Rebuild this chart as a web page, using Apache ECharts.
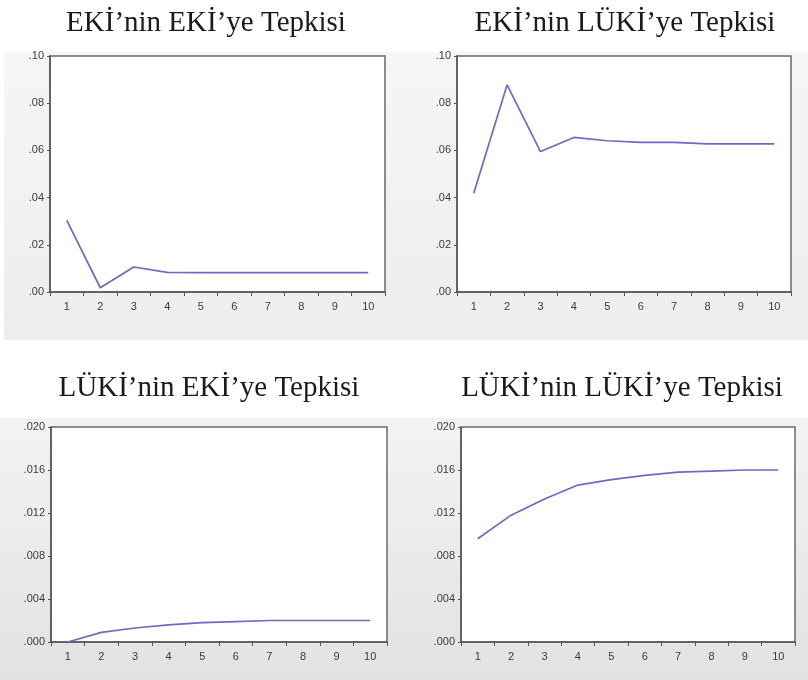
<!DOCTYPE html>
<html>
<head>
<meta charset="utf-8">
<script src="https://cdn.jsdelivr.net/npm/echarts@6/dist/echarts.min.js"></script>
<style>html,body{margin:0;padding:0;background:#fff}#c{width:808px;height:680px}</style>
</head>
<body>
<div id="c"></div>
<script>
const periods = ['1','2','3','4','5','6','7','8','9','10'];
const titles = ['EKİ’nin EKİ’ye Tepkisi','EKİ’nin LÜKİ’ye Tepkisi','LÜKİ’nin EKİ’ye Tepkisi','LÜKİ’nin LÜKİ’ye Tepkisi'];
const ekiEki   = [0.0303, 0.0018, 0.0106, 0.0083, 0.0082, 0.0082, 0.0082, 0.0082, 0.0082, 0.0082];
const ekiLuki  = [0.0418, 0.0878, 0.0595, 0.0655, 0.0641, 0.0634, 0.0634, 0.0628, 0.0628, 0.0628];
const lukiEki  = [0.0000, 0.0009, 0.0013, 0.0016, 0.0018, 0.0019, 0.0020, 0.0020, 0.0020, 0.0020];
const lukiLuki = [0.0096, 0.0118, 0.0133, 0.0146, 0.0151, 0.0155, 0.0158, 0.0159, 0.0160, 0.0160];
const yTopMax = 0.10, yTopStep = 0.02, yTopDigits = 2;
const yBotMax = 0.020, yBotStep = 0.004, yBotDigits = 3;

const seriesData = [ekiEki, ekiLuki, lukiEki, lukiLuki];
const grids = [
  {left: 50, top: 56, width: 335, height: 236},
  {left: 457, top: 56, width: 334, height: 236},
  {left: 51, top: 427, width: 336, height: 215},
  {left: 461, top: 427, width: 334, height: 215}
];
const titlePos = [[201, 4], [620, 4], [204, 369], [617, 369]];
const fmt = d => v => v.toFixed(d).replace(/^0/, '');

const chart = echarts.init(document.getElementById('c'), null, {renderer: 'canvas'});
const option = {
  animation: false,
  backgroundColor: '#ffffff',
  graphic: [
    {type: 'rect', z: -10, shape: {x: 4, y: 52, width: 804, height: 288},
     style: {fill: new echarts.graphic.LinearGradient(0, 0, 0, 1, [{offset: 0, color: '#f5f6f6'}, {offset: 1, color: '#eceded'}])}},
    {type: 'rect', z: -10, shape: {x: 0, y: 418, width: 808, height: 262},
     style: {fill: new echarts.graphic.LinearGradient(0, 0, 0, 1, [{offset: 0, color: '#f3f3f3'}, {offset: 1, color: '#e2e2e2'}])}}
  ],
  title: titles.map((t, i) => ({
    text: t, left: titlePos[i][0], top: titlePos[i][1], textAlign: 'center',
    textStyle: {fontFamily: 'Liberation Serif', fontSize: 29, fontWeight: 'normal', color: '#1a1a1a'}
  })),
  grid: grids.map(g => Object.assign({show: true, backgroundColor: '#ffffff', borderColor: '#6a6a6a', borderWidth: 1.5}, g)),
  xAxis: grids.map((g, i) => ({
    type: 'category', gridIndex: i, data: periods, boundaryGap: true,
    axisLine: {lineStyle: {color: '#555', width: 1.5}},
    axisTick: {show: true, length: 4, alignWithLabel: false, lineStyle: {color: '#555'}},
    axisLabel: {color: '#3a3a3a', fontFamily: 'Liberation Sans', fontSize: 11, margin: 9},
    splitLine: {show: false}
  })),
  yAxis: grids.map((g, i) => {
    const top = i < 2;
    return {
      type: 'value', gridIndex: i, min: 0,
      max: top ? yTopMax : yBotMax, interval: top ? yTopStep : yBotStep,
      axisLine: {show: true, lineStyle: {color: '#555', width: 1.5}},
      axisTick: {show: true, length: 3, lineStyle: {color: '#555'}},
      axisLabel: {color: '#3a3a3a', fontFamily: 'Liberation Sans', fontSize: 11, margin: 6,
                  formatter: fmt(top ? yTopDigits : yBotDigits)},
      splitLine: {show: false}
    };
  }),
  series: seriesData.map((d, i) => ({
    type: 'line', xAxisIndex: i, yAxisIndex: i, data: d,
    showSymbol: false, symbol: 'none',
    lineStyle: {color: '#6b6bc3', width: 1.7}
  }))
};
chart.setOption(option);
</script>
</body>
</html>
